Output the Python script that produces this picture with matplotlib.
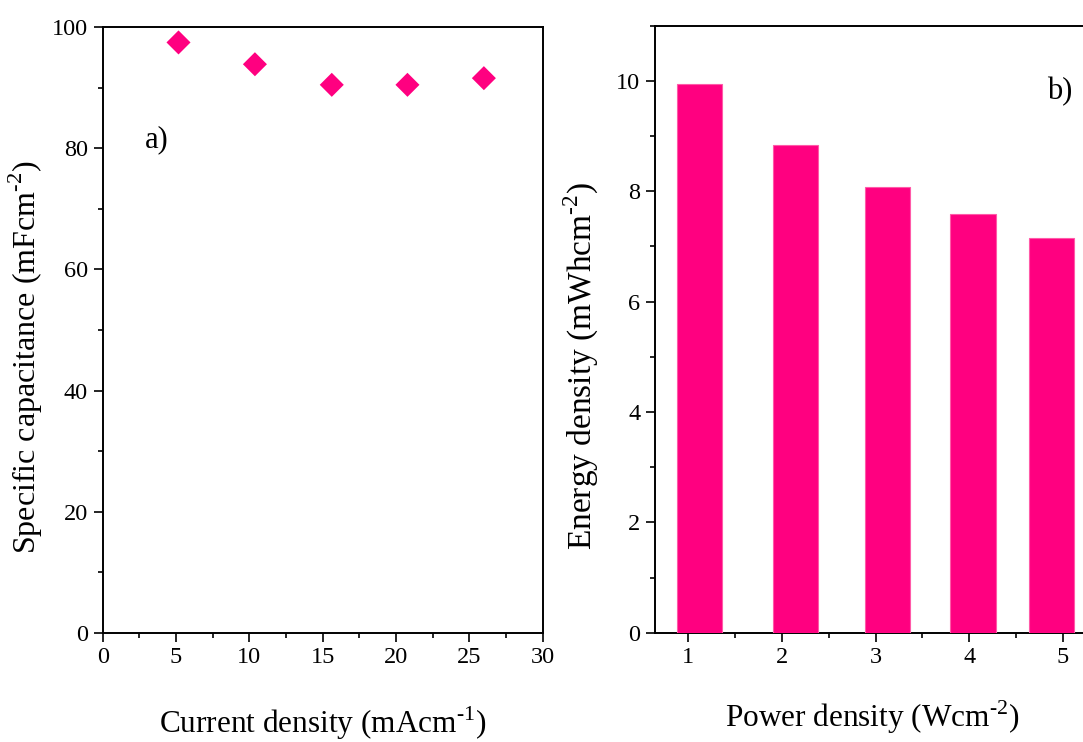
import matplotlib
matplotlib.use("Agg")
import matplotlib.pyplot as plt
from matplotlib.ticker import MultipleLocator

plt.rcParams['font.family'] = ['Liberation Serif', 'DejaVu Serif']
plt.rcParams['mathtext.fontset'] = 'custom'
plt.rcParams['mathtext.rm'] = 'Liberation Serif'

# a) specific capacitance vs current density
current_density = [5.17, 10.38, 15.62, 20.78, 25.99]
capacitance = [97.5, 93.9, 90.5, 90.5, 91.6]

# b) energy density vs power density
power_density = [1.12, 2.145, 3.13, 4.04, 4.88]
energy_density = [9.94, 8.83, 8.08, 7.59, 7.15]

pink = '#ff0080'

fig = plt.figure(figsize=(10.83, 7.42), dpi=100)
ax1 = fig.add_axes([0.0948, 0.1473, 0.4063, 0.8159])
ax2 = fig.add_axes([0.6048, 0.1473, 0.4017, 0.8182])


def style(ax):
    for s in ax.spines.values():
        s.set_linewidth(1.4)
    ax.tick_params(which='both', direction='out', width=1.2, labelsize=17.5,
                   top=False, right=False)
    ax.tick_params(which='major', length=6.5, pad=4)
    ax.tick_params(which='minor', length=3.8)


ax1.scatter(current_density, capacitance, marker='D', s=150, color=pink,
            edgecolors='none', zorder=3)
ax1.set_xlim(0, 30)
ax1.set_ylim(0, 100)
ax1.xaxis.set_major_locator(MultipleLocator(5))
ax1.xaxis.set_minor_locator(MultipleLocator(2.5))
ax1.yaxis.set_major_locator(MultipleLocator(20))
ax1.yaxis.set_minor_locator(MultipleLocator(10))
style(ax1)
ax1.set_xlabel(r'Current density (mAcm$^{\text{-1}}$)', fontsize=22.5, va='top')
ax1.set_ylabel(r'Specific capacitance (mFcm$^{\text{-2}}$)', fontsize=23)
ax1.xaxis.set_label_coords(0.5, -0.118)
ax1.yaxis.set_label_coords(-0.131, 0.455)
ax1.text(3.7, 81.4, 'a)', fontsize=22, ha='center', va='center')

ax2.bar(power_density, energy_density, width=0.484, color=pink,
        edgecolor='#ff5aa8', linewidth=0.8, zorder=3)
ax2.set_xlim(0.644, 5.29)
ax2.set_ylim(0, 11)
ax2.xaxis.set_major_locator(MultipleLocator(1))
ax2.xaxis.set_minor_locator(MultipleLocator(0.5))
ax2.yaxis.set_major_locator(MultipleLocator(2))
ax2.yaxis.set_minor_locator(MultipleLocator(1))
style(ax2)
ax2.set_xlabel(r'Power density (Wcm$^{\text{-2}}$)', fontsize=22.5, va='top')
ax2.set_ylabel(r'Energy density (mWhcm$^{\text{-2}}$)', fontsize=24)
ax2.xaxis.set_label_coords(0.5, -0.108)
ax2.yaxis.set_label_coords(-0.123, 0.44)
fig.text(1060 / 1083, 1 - 92 / 742, 'b)', fontsize=22, ha='center', va='center')

fig.savefig('out.png', dpi=100)
